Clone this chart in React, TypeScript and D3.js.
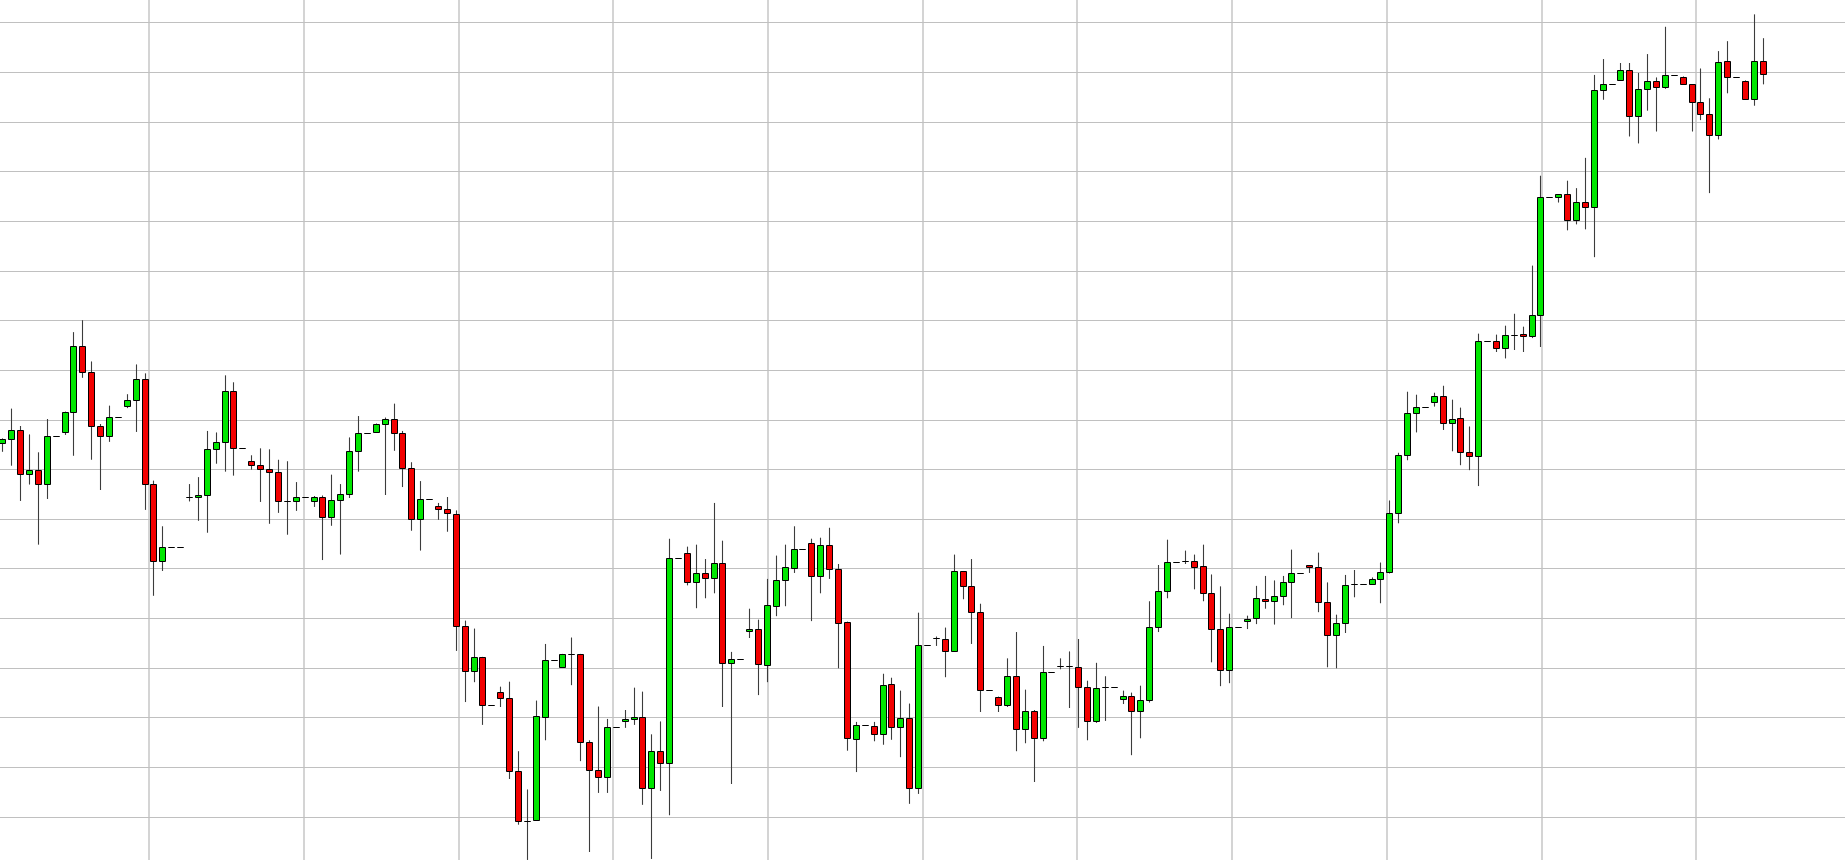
import React from "react";
import * as d3 from "d3";

// OHLC values (price units, grid every 10)
const opens = [
  85.2, 86.0, 87.8, 79.1, 79.9, 77.1, 86.6, 87.4, 91.6, 104.9,
  99.5, 88.7, 86.6, 90.6, 92.8, 93.9, 98.1, 77.1, 61.6, 64.4,
  64.4, 74.3, 74.3, 74.7, 84.0, 85.4, 95.8, 84.2, 81.7, 80.9,
  80.1, 79.5, 73.6, 73.5, 74.3, 73.5, 74.3, 70.4, 73.7, 74.9,
  83.6, 87.2, 87.5, 89.0, 90.2, 87.2, 80.3, 69.9, 73.9, 72.5,
  71.9, 71.0, 48.5, 39.4, 42.2, 32.6, 35.2, 34.0, 19.3, 9.2,
  9.4, 30.1, 41.6, 40.1, 42.8, 42.8, 25.1, 19.5, 18.1, 28.1,
  29.3, 29.7, 30.1, 15.8, 23.3, 20.9, 62.1, 63.2, 57.3, 59.1,
  58.1, 61.1, 41.0, 41.8, 47.4, 47.9, 40.6, 52.5, 57.7, 60.1,
  64.0, 65.2, 58.5, 64.8, 59.9, 49.3, 25.7, 28.5, 28.3, 26.7,
  36.8, 28.1, 29.9, 15.8, 44.6, 46.0, 45.8, 43.4, 59.5, 56.5,
  51.3, 35.6, 34.2, 32.6, 38.4, 27.7, 31.3, 25.9, 39.2, 40.3,
  40.3, 40.2, 36.2, 29.3, 36.1, 36.2, 33.8, 34.3, 31.3, 33.6,
  48.3, 55.4, 61.3, 61.6, 61.5, 60.5, 55.1, 47.9, 39.6, 48.3,
  49.5, 50.1, 53.9, 53.5, 54.5, 57.3, 59.1, 60.7, 60.3, 53.3,
  46.6, 49.1, 56.8, 56.8, 56.9, 57.8, 59.2, 71.2, 82.9, 91.3,
  92.5, 93.6, 94.7, 89.3, 90.3, 83.4, 82.6, 105.8, 105.8, 104.4,
  107.1, 107.2, 106.8, 111.1, 134.8, 134.8, 135.4, 130.1, 133.8, 132.8,
  156.3, 157.5, 158.3, 160.3, 151.2, 156.5, 158.2, 156.9, 159.3, 158.9,
  157.5, 153.9, 151.5, 147.4, 162.3, 158.9, 158.1, 154.5, 162.3,
];

const highs = [
  86.2, 92.2, 88.7, 87.0, 83.4, 90.1, 86.6, 91.6, 107.6, 110.0,
  101.7, 89.1, 92.8, 90.6, 95.1, 101.1, 99.3, 77.7, 68.5, 64.4,
  64.4, 77.0, 78.4, 87.7, 87.4, 98.9, 97.5, 84.2, 82.8, 84.2,
  84.0, 81.9, 81.6, 77.4, 74.3, 74.6, 74.7, 78.9, 77.0, 86.4,
  90.7, 87.2, 89.2, 90.4, 93.2, 87.7, 81.4, 77.6, 73.9, 73.2,
  74.4, 71.7, 49.5, 47.9, 42.2, 32.6, 36.2, 37.2, 23.2, 15.5,
  33.4, 44.8, 41.6, 42.8, 46.1, 42.8, 25.4, 32.2, 29.7, 28.1,
  31.5, 36.0, 35.2, 26.6, 29.2, 66.0, 62.1, 64.4, 64.8, 61.9,
  73.2, 65.6, 43.2, 41.8, 51.9, 49.7, 57.9, 62.6, 64.8, 68.5,
  64.0, 66.0, 66.2, 68.2, 60.9, 49.3, 29.1, 28.5, 29.1, 38.8,
  38.0, 35.4, 32.8, 51.1, 44.6, 46.3, 48.1, 62.8, 59.5, 61.9,
  52.9, 35.6, 34.2, 41.9, 47.2, 35.6, 31.5, 44.4, 39.2, 41.9,
  43.3, 45.8, 37.4, 41.0, 38.3, 36.2, 35.4, 35.0, 36.4, 53.4,
  60.7, 65.8, 61.3, 63.6, 62.8, 64.8, 58.8, 56.4, 50.9, 48.3,
  50.5, 56.5, 58.5, 57.6, 58.5, 63.8, 59.1, 60.7, 63.2, 57.2,
  50.7, 58.7, 59.7, 56.8, 58.2, 61.2, 73.7, 83.3, 95.6, 95.0,
  92.5, 95.4, 96.8, 94.0, 92.4, 88.6, 107.3, 105.8, 107.1, 108.9,
  111.3, 108.7, 121.0, 139.1, 134.8, 135.4, 138.1, 136.6, 142.7, 159.4,
  162.6, 157.5, 161.8, 161.8, 159.8, 163.6, 158.9, 169.1, 159.3, 159.1,
  157.5, 160.7, 154.7, 164.2, 166.2, 158.9, 158.3, 171.6, 166.8,
];

const lows = [
  83.5, 80.7, 73.6, 76.9, 64.8, 74.0, 86.6, 86.9, 82.7, 98.4,
  81.9, 75.8, 85.5, 90.6, 92.3, 87.5, 71.8, 54.5, 59.5, 64.4,
  64.4, 73.5, 69.6, 67.2, 81.1, 79.5, 78.7, 84.2, 79.9, 73.4,
  69.0, 71.2, 66.8, 71.6, 74.3, 72.4, 61.7, 68.6, 62.8, 74.2,
  79.5, 87.2, 87.3, 74.8, 83.7, 76.4, 67.6, 63.6, 73.9, 69.8,
  67.4, 43.4, 33.1, 37.1, 28.5, 32.6, 32.1, 17.6, 8.4, 1.3,
  9.4, 25.4, 41.6, 40.1, 36.5, 21.2, 2.9, 14.8, 14.8, 28.1,
  27.9, 28.5, 12.4, 1.5, 15.2, 10.3, 62.1, 56.6, 52.0, 54.0,
  55.0, 32.1, 16.6, 41.8, 46.0, 34.5, 37.1, 50.4, 52.4, 59.1,
  64.0, 49.4, 55.0, 57.9, 39.9, 23.3, 19.0, 28.5, 25.2, 24.5,
  25.5, 22.0, 12.6, 14.6, 44.6, 44.4, 38.1, 43.2, 53.8, 44.8,
  31.1, 35.6, 31.1, 32.1, 23.2, 24.8, 17.0, 25.2, 39.2, 39.7,
  31.9, 27.9, 25.4, 28.9, 29.3, 36.2, 32.7, 22.4, 25.8, 33.0,
  47.2, 54.0, 61.3, 60.9, 55.8, 53.4, 41.1, 36.3, 36.9, 48.3,
  47.8, 48.8, 51.9, 48.7, 52.6, 50.0, 59.1, 59.1, 51.2, 40.1,
  39.9, 47.0, 54.2, 56.8, 56.9, 53.0, 59.0, 69.1, 81.8, 87.4,
  92.5, 92.6, 87.9, 83.6, 80.8, 79.8, 76.6, 105.8, 103.6, 102.3,
  104.0, 103.6, 106.4, 104.6, 134.8, 133.7, 128.1, 129.3, 128.3, 122.7,
  154.4, 157.5, 158.3, 147.0, 145.6, 152.2, 148.0, 156.6, 159.3, 157.5,
  148.0, 150.3, 135.6, 146.4, 155.7, 158.9, 154.5, 153.2, 157.5,
];

const closes = [
  86.0, 87.8, 79.1, 79.9, 77.0, 86.6, 86.6, 91.6, 104.9, 99.5,
  88.7, 86.6, 90.6, 90.6, 93.9, 98.1, 77.1, 61.6, 64.4, 64.4,
  64.4, 74.3, 74.7, 84.0, 85.4, 95.8, 84.2, 84.2, 80.9, 80.1,
  79.5, 73.6, 73.6, 74.3, 74.3, 74.3, 70.4, 73.7, 74.9, 83.6,
  87.2, 87.2, 89.0, 90.2, 87.2, 80.3, 69.9, 73.9, 73.9, 71.9,
  71.1, 48.5, 39.4, 42.2, 32.6, 32.6, 34.0, 19.3, 9.2, 9.2,
  30.3, 41.6, 41.6, 42.8, 42.8, 25.1, 19.5, 18.1, 28.1, 28.1,
  29.7, 30.1, 15.8, 23.3, 20.9, 62.1, 62.1, 57.3, 59.1, 58.1,
  61.1, 41.0, 41.8, 41.8, 47.9, 40.8, 52.7, 57.7, 60.3, 64.0,
  64.0, 58.5, 64.8, 59.9, 49.1, 25.9, 28.5, 28.5, 26.7, 36.6,
  28.1, 29.9, 15.8, 44.6, 44.6, 46.0, 43.4, 59.5, 56.5, 51.3,
  35.6, 35.6, 32.6, 38.4, 27.7, 31.3, 25.9, 39.2, 39.2, 40.3,
  40.3, 36.2, 29.3, 36.0, 36.1, 36.2, 34.3, 31.3, 33.6, 48.3,
  55.4, 61.3, 61.3, 61.6, 60.3, 55.1, 47.9, 39.6, 48.3, 48.3,
  49.9, 54.1, 53.5, 54.5, 57.3, 59.1, 59.1, 60.3, 53.3, 46.6,
  49.1, 56.6, 56.8, 56.8, 57.8, 59.2, 71.2, 82.9, 91.3, 92.5,
  92.5, 94.7, 89.3, 90.1, 83.4, 82.6, 105.8, 105.8, 104.4, 107.0,
  107.1, 106.8, 111.1, 134.8, 134.8, 135.4, 130.1, 133.8, 132.8, 156.3,
  157.5, 157.5, 160.3, 151.2, 156.5, 158.2, 156.9, 159.3, 159.3, 157.5,
  153.9, 151.6, 147.4, 162.1, 158.9, 158.9, 154.5, 162.3, 159.5,
];

// horizontal grid levels (price) and vertical grid spacing (in bars)
const priceGridLevels = d3.range(10, 180, 10);
const timeGridStart = 16.53;
const timeGridStep = 17.4;
const timeGridCount = 13;

const W = 1845;
const H = 860;
const UP = "#00e600";
const DOWN = "#f20000";

export default function App() {
  const n = opens.length;
  const x = d3.scaleLinear().domain([0, n - 1]).range([2.33, 1762.7]);
  const y = d3.scaleLinear().domain([0, 170]).range([866.4, 22.3]);

  const timeGrid = d3.range(-1, timeGridCount - 1).map((k) => timeGridStart + k * timeGridStep);

  const candles = opens.map((o, i) => ({ i, o, h: highs[i], l: lows[i], c: closes[i] }));

  return (
    <>
      <style>{`body{margin:0;background:#fff;overflow:hidden}`}</style>
      <svg
        width={W}
        height={H}
        style={{ position: "fixed", left: 0, top: 0, display: "block", background: "#fff" }}
      >
        <g>
          {timeGrid.map((t, k) => {
            const gx = Math.round(x(t));
            return (
              <line key={"v" + k} x1={gx} x2={gx} y1={0} y2={H} stroke="#d4d4d4" strokeWidth={2} />
            );
          })}
          {priceGridLevels.map((p) => {
            const gy = Math.round(y(p)) + 0.5;
            return <line key={"h" + p} x1={0} x2={W} y1={gy} y2={gy} stroke="#c0c0c0" strokeWidth={1} />;
          })}
        </g>
        <g>
          {candles.map((d) => {
            const cx = Math.round(x(d.i));
            const wx = cx + 0.5;
            const yHi = y(d.h);
            const yLo = y(d.l);
            const top = Math.round(y(Math.max(d.o, d.c))) + 0.5;
            const bot = Math.round(y(Math.min(d.o, d.c))) + 0.5;
            const l = cx - 2.5;
            const r = cx + 3.5;
            const fill = d.c > d.o ? UP : d.c < d.o ? DOWN : "none";
            const body = d3.path();
            body.moveTo(l, top);
            body.lineTo(r, top);
            body.lineTo(r, bot);
            body.lineTo(l, bot);
            body.closePath();
            return (
              <g key={d.i}>
                <line x1={wx} x2={wx} y1={yHi} y2={yLo} stroke="#3c3c3c" strokeWidth={1.1} />
                <path d={body.toString()} fill={fill} stroke="#000" strokeWidth={1} />
              </g>
            );
          })}
        </g>
      </svg>
    </>
  );
}
